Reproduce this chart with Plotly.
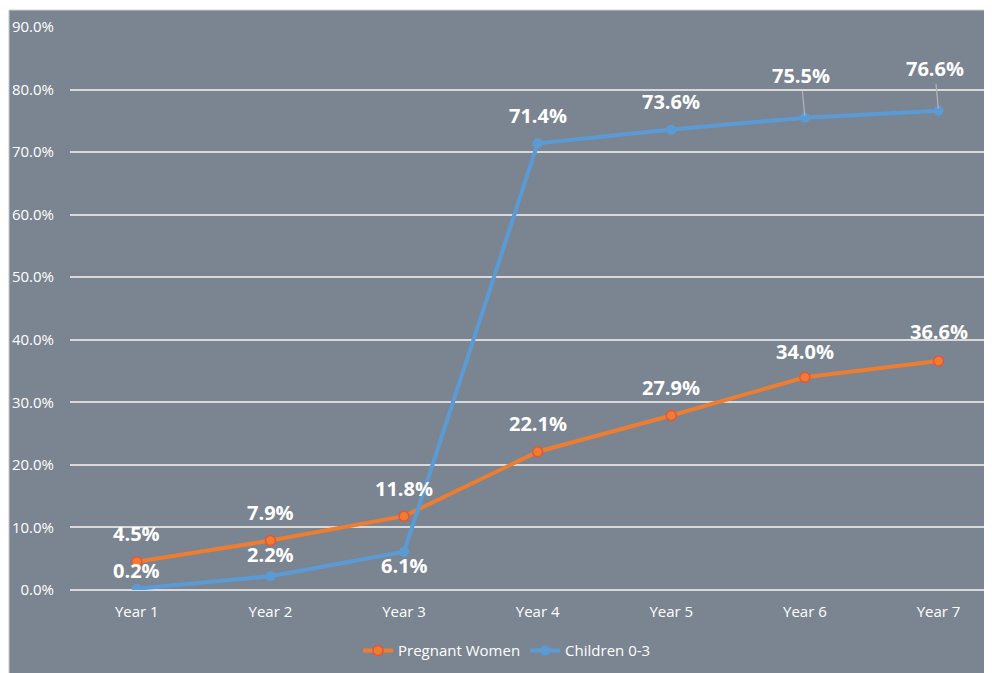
import plotly.graph_objects as go

years = ["Year 1", "Year 2", "Year 3", "Year 4", "Year 5", "Year 6", "Year 7"]
pregnant = [0.045, 0.079, 0.118, 0.221, 0.279, 0.340, 0.366]
children = [0.002, 0.022, 0.061, 0.714, 0.736, 0.755, 0.766]
y_ticks = [0, 0.1, 0.2, 0.3, 0.4, 0.5, 0.6, 0.7, 0.8, 0.9]

BG = "#7A8591"
ORANGE = "#ED7D31"
BLUE = "#5B9BD5"
GRID = "#D9D9D9"
FONT = "Open Sans"

fig = go.Figure()
fig.add_trace(go.Scatter(
    x=years, y=pregnant, name="Pregnant Women", mode="lines+markers",
    line=dict(color=ORANGE, width=4),
    marker=dict(color=ORANGE, size=10, line=dict(color="#E8533A", width=1.5)),
))
fig.add_trace(go.Scatter(
    x=years, y=children, name="Children 0-3", mode="lines+markers",
    line=dict(color=BLUE, width=4),
    marker=dict(color=BLUE, size=10),
))

label_font = dict(family=FONT, size=20, color="white", weight="bold")
# pixel shifts for labels (positive = up)
p_shift = [28, 28, 28, 28, 28, 26, 30]
c_shift = [18, 22, -14, 28, 28, 40, 41]
for i, (yr, v) in enumerate(zip(years, pregnant)):
    fig.add_annotation(x=yr, y=v, text=f"{v*100:.1f}%", showarrow=False,
                       yshift=p_shift[i], font=label_font)
for i, (yr, v) in enumerate(zip(years, children)):
    if i >= 5:
        fig.add_annotation(x=yr, y=v, text=f"{v*100:.1f}%", showarrow=True,
                           arrowhead=0, arrowwidth=1.2, arrowcolor="#B5B5B5",
                           ax=-4, ay=-42, standoff=2, font=label_font)
    else:
        fig.add_annotation(x=yr, y=v, text=f"{v*100:.1f}%", showarrow=False,
                           yshift=c_shift[i], font=label_font)

# grey chart background with thin white border at top/left
fig.add_shape(type="rect", xref="paper", yref="paper",
              x0=-0.0662, x1=1.01, y0=-0.16, y1=1.0302,
              fillcolor=BG, line=dict(color="#D0D0D0", width=1), layer="below")

fig.update_layout(
    width=984, height=665,
    margin=dict(l=62, r=0, t=19, b=83),
    paper_bgcolor="white",
    plot_bgcolor="rgba(0,0,0,0)",
    font=dict(family=FONT, color="white", size=15),
    showlegend=True,
    legend=dict(orientation="h", x=0.474, xanchor="center", y=-0.108,
                yanchor="middle", font=dict(size=15, color="white"),
                bgcolor="rgba(0,0,0,0)", itemwidth=30),
    xaxis=dict(type="category", range=[-0.5, 6.4], showgrid=False,
               showline=False, zeroline=False, ticks="",
               tickfont=dict(size=15, color="white"), ticklabelstandoff=11),
    yaxis=dict(range=[0, 0.9], tickvals=y_ticks, tickformat=".1%",
               showgrid=True, gridcolor=GRID, gridwidth=2,
               zeroline=True, zerolinecolor=GRID, zerolinewidth=2,
               showline=False, ticks="",
               tickfont=dict(size=15, color="white"), ticklabelstandoff=15),
)

fig.write_html("out.html")
